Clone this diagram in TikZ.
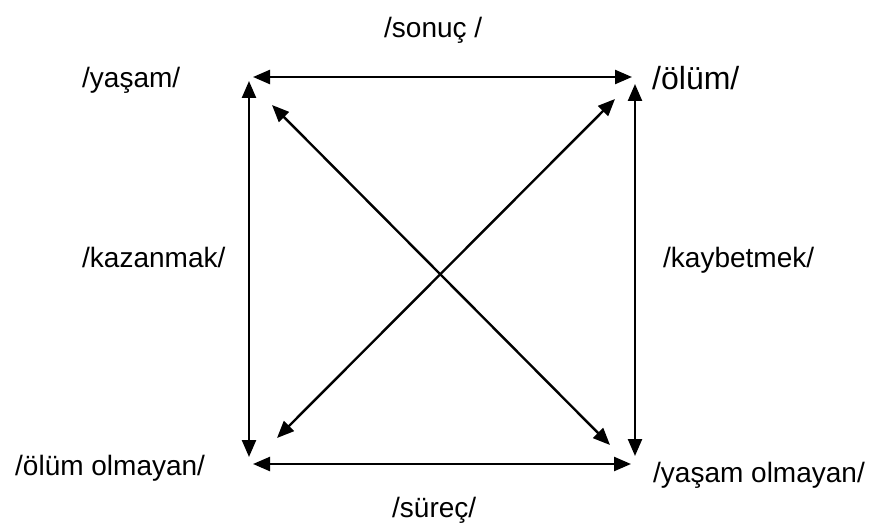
\documentclass[tikz,border=0pt]{standalone}
\usepackage{fontspec}
\setmainfont{Liberation Sans}
\usetikzlibrary{arrows.meta}
\begin{document}
\begin{tikzpicture}[x=1pt,y=-1pt,
  lbl/.style={inner sep=0pt,font=\fontsize{28}{34}\selectfont},
  biglbl/.style={inner sep=0pt,font=\fontsize{32}{38}\selectfont},
  dbl/.style={line width=2.4pt,{Triangle[length=17pt,width=14pt]}-{Triangle[length=17pt,width=14pt]}}]
\useasboundingbox[fill=white] (0,0) rectangle (878,524);
% corner points
\coordinate (tl) at (253,77);
\coordinate (tr) at (632,77);
\coordinate (lt) at (249,81);
\coordinate (lb) at (249,457);
\coordinate (rt) at (635,84);
\coordinate (rb) at (635,456);
\coordinate (bl) at (253,464);
\coordinate (br) at (631,464);
\coordinate (d1a) at (272,105);
\coordinate (d1b) at (610,445);
\coordinate (d2a) at (277,438);
\coordinate (d2b) at (615,99);
% connectors
\draw[dbl] (tl) -- (tr);
\draw[dbl] (bl) -- (br);
\draw[dbl] (lt) -- (lb);
\draw[dbl] (rt) -- (rb);
\draw[dbl] (d1a) -- (d1b);
\draw[dbl] (d2a) -- (d2b);
% labels
\node[lbl,anchor=base west] (sonuc) at (384,38) {/sonuç /};
\node[lbl,anchor=base west] (yasam) at (82,88) {/yaşam/};
\node[biglbl,anchor=base west] (olum) at (652,90) {/ölüm/};
\node[lbl,anchor=base west] (kazanmak) at (82,267) {/kazanmak/};
\node[lbl,anchor=base west] (kaybetmek) at (663,267) {/kaybetmek/};
\node[lbl,anchor=base west] (olumolmayan) at (15,475) {/ölüm olmayan/};
\node[lbl,anchor=base west] (yasamolmayan) at (653,482) {/yaşam olmayan/};
\node[lbl,anchor=base west] (surec) at (392,517) {/süreç/};
\end{tikzpicture}
\end{document}
